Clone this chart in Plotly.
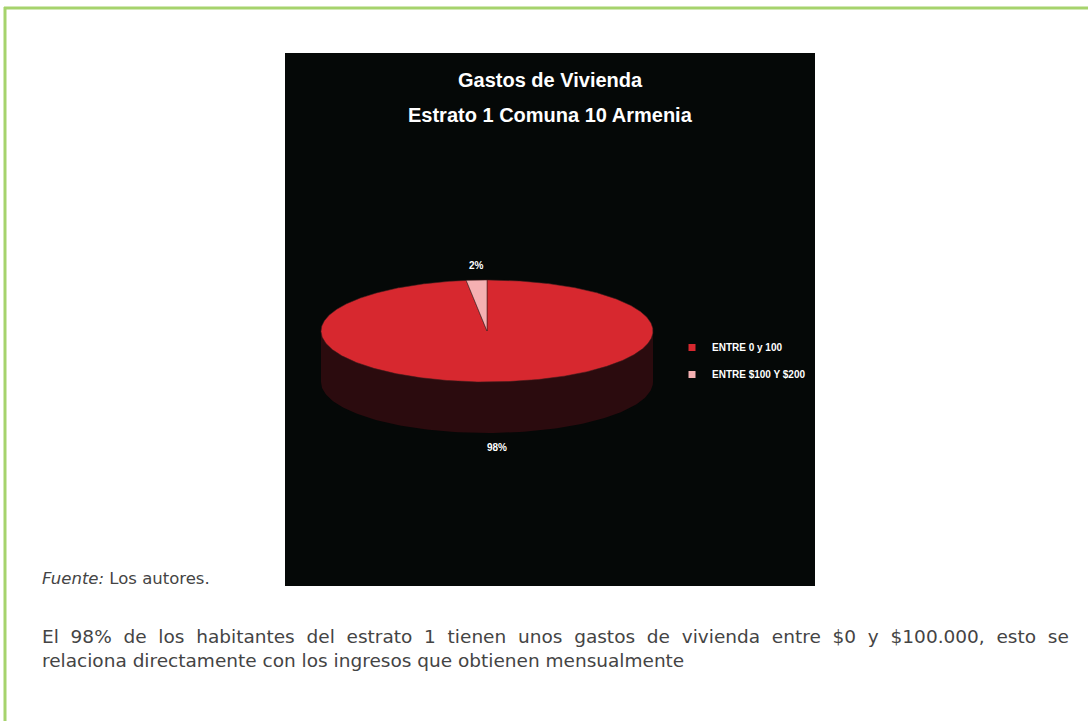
import numpy as np
import plotly.graph_objects as go

# ---- data ----
categories = ["ENTRE 0 y 100", "ENTRE $100 Y $200"]
values = [98, 2]
top_colors = ["#D7282F", "#F5B0B2"]
side_colors = ["#2B0B0E", "#5a3a3b"]

title_lines = ["Gastos de Vivienda", "Estrato 1 Comuna 10 Armenia"]
source_text = "<i>Fuente:</i> Los autores."
body_lines = [
    "El 98% de los habitantes del estrato 1 tienen unos gastos de vivienda entre $0 y $100.000, esto se",
    "relaciona directamente con los ingresos que obtienen mensualmente",
]

W, H = 1088, 721
# pie geometry (pixel space of the page)
cx, cy, rx, ry, depth = 487, 331, 166, 51, 51


def pt(theta_deg, dy=0.0):
    t = np.radians(theta_deg)
    return cx + rx * np.sin(t), cy - ry * np.cos(t) + dy


def justify(line):
    """widen every word gap with one non-breaking space"""
    return " &nbsp;".join(line.split(" "))


fig = go.Figure()

total = float(sum(values))
starts, ends = [], []
acc = 0.0
for v in values:
    starts.append(acc / total * 360)
    acc += v
    ends.append(acc / total * 360)

# sides (front half only: 90..270 deg)
for i, (a0, a1) in enumerate(zip(starts, ends)):
    s0, s1 = max(a0, 90), min(a1, 270)
    if s1 <= s0:
        continue
    th = np.linspace(s0, s1, 120)
    xt, yt = pt(th)
    xb, yb = pt(th[::-1], depth)
    fig.add_trace(go.Scatter(
        x=np.concatenate([xt, xb, xt[:1]]), y=np.concatenate([yt, yb, yt[:1]]),
        mode="lines", fill="toself", fillcolor=side_colors[i],
        line=dict(width=0, color=side_colors[i]), hoverinfo="skip", showlegend=False))

# top faces
for i, (a0, a1) in enumerate(zip(starts, ends)):
    th = np.linspace(a0, a1, max(int((a1 - a0) * 2), 8))
    xt, yt = pt(th)
    xs = np.concatenate([[cx], xt, [cx]])
    ys = np.concatenate([[cy], yt, [cy]])
    fig.add_trace(go.Scatter(
        x=xs, y=ys, mode="lines", fill="toself", fillcolor=top_colors[i],
        line=dict(width=0.8, color="rgba(70,30,30,0.7)"),
        name=categories[i], hoverinfo="skip", showlegend=False))

# legend entries
for i, c in enumerate(categories):
    fig.add_trace(go.Scatter(
        x=[None], y=[None], mode="markers", name=f"<b>{c}</b>",
        legendgroup=f"g{i}",
        marker=dict(symbol="square", size=7, color=top_colors[i],
                    line=dict(width=0))))

# percentage labels
for i, (a0, a1) in enumerate(zip(starts, ends)):
    mid = (a0 + a1) / 2
    t = np.radians(mid)
    lx = cx + rx * np.sin(t)
    ly = cy - (ry + 15) * np.cos(t) + (depth if np.cos(t) < 0 else 0)
    fig.add_annotation(x=lx, y=ly, xref="x", yref="y",
                       text=f"<b>{values[i] / total * 100:.0f}%</b>", showarrow=False,
                       font=dict(family="Liberation Sans, Arial, sans-serif",
                                 size=10, color="#ffffff"))

# title
for k, (t, yy) in enumerate(zip(title_lines, [80, 115])):
    fig.add_annotation(x=550, y=yy, xref="x", yref="y", text=f"<b>{t}</b>",
                       showarrow=False,
                       font=dict(family="Liberation Sans, Arial, sans-serif",
                                 size=20, color="#ffffff"))

# page texts
fig.add_annotation(x=40, y=578, xref="x", yref="y", xanchor="left", text=source_text,
                   showarrow=False,
                   font=dict(family="DejaVu Sans ExtraLight, DejaVu Sans", size=16.5,
                             color="#444444"))
body_render = [justify(body_lines[0]), body_lines[1]]
fig.add_annotation(x=40, y=648, xref="x", yref="y", xanchor="left", align="left",
                   text="<br>".join(body_render), showarrow=False,
                   font=dict(family="DejaVu Sans ExtraLight, DejaVu Sans", size=18.5,
                             color="#444444"))

shapes = [
    dict(type="rect", xref="x", yref="y", x0=285, x1=815, y0=53, y1=586,
         fillcolor="#050807", line=dict(width=0), layer="below"),
    dict(type="line", xref="x", yref="y", x0=4, x1=W, y0=8, y1=8,
         line=dict(color="#A6D36C", width=3)),
    dict(type="line", xref="x", yref="y", x0=5, x1=5, y0=7, y1=H,
         line=dict(color="#A6D36C", width=3)),
]

fig.update_layout(
    width=W, height=H, margin=dict(l=0, r=0, t=0, b=0),
    paper_bgcolor="#ffffff", plot_bgcolor="rgba(0,0,0,0)",
    xaxis=dict(range=[0, W], visible=False, fixedrange=True),
    yaxis=dict(range=[H, 0], visible=False, fixedrange=True),
    shapes=shapes,
    showlegend=True,
    legend=dict(x=672 / W, y=1 - 333 / H, xanchor="left", yanchor="top",
                bgcolor="rgba(0,0,0,0)", itemwidth=30, tracegroupgap=8,
                borderwidth=0,
                font=dict(family="Liberation Sans, Arial, sans-serif",
                          size=10, color="#ffffff")),
)

fig.write_html("out.html", config={"displayModeBar": False},
               post_script="document.body.style.margin='0';document.body.style.overflow='hidden';")
